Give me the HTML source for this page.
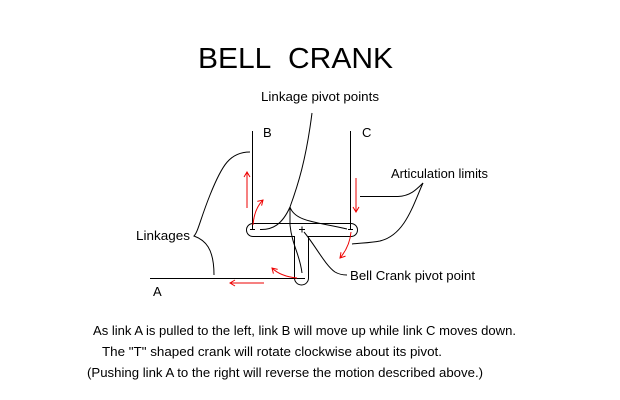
<!DOCTYPE html>
<html><head><meta charset="utf-8"><style>
html,body{margin:0;padding:0;background:#fff;}
svg{display:block;}
text{font-family:"Liberation Sans",sans-serif;fill:#000;}
</style></head><body>
<svg width="620" height="400" viewBox="0 0 620 400" xmlns="http://www.w3.org/2000/svg">
<defs>
<marker id="ah" markerWidth="8" markerHeight="8" refX="6" refY="4" orient="auto" markerUnits="userSpaceOnUse">
<path d="M1,1 L6,4 L1,7" fill="none" stroke="#e00" stroke-width="1"/>
</marker>
</defs>
<text x="198" y="68" font-size="29" textLength="195" lengthAdjust="spacingAndGlyphs">BELL&#160; CRANK</text>
<text x="261" y="101" font-size="13" textLength="118" lengthAdjust="spacingAndGlyphs">Linkage pivot points</text>
<text x="263" y="137" font-size="13">B</text>
<text x="362" y="137" font-size="13">C</text>
<text x="391" y="178" font-size="13" textLength="97" lengthAdjust="spacingAndGlyphs">Articulation limits</text>
<text x="136" y="240" font-size="13" textLength="54" lengthAdjust="spacingAndGlyphs">Linkages</text>
<text x="350" y="280" font-size="13" textLength="125" lengthAdjust="spacingAndGlyphs">Bell Crank pivot point</text>
<text x="153" y="296" font-size="13">A</text>
<text x="93" y="335" font-size="13" textLength="423" lengthAdjust="spacingAndGlyphs">As link A is pulled to the left, link B will move up while link C moves down.</text>
<text x="102" y="356" font-size="13" textLength="340" lengthAdjust="spacingAndGlyphs">The "T" shaped crank will rotate clockwise about its pivot.</text>
<text x="87" y="377" font-size="13" textLength="396" lengthAdjust="spacingAndGlyphs">(Pushing link A to the right will reverse the motion described above.)</text>

<g fill="none" stroke="#000" stroke-width="1">
<line x1="252.5" y1="131" x2="252.5" y2="229"/>
<line x1="350.5" y1="131" x2="350.5" y2="229"/>
<line x1="150" y1="278.5" x2="302" y2="278.5"/>
<path d="M253,223.5 L351,223.5 A6.5,6.5 0 0 1 351,236.5 L308.5,236.5 L308.5,278 A7,7 0 0 1 294.5,278 L294.5,236.5 L253,236.5 A6.5,6.5 0 0 1 253,223.5 Z"/>
<path d="M299,229.5 h6 M302,226.5 v6"/>
<path d="M250,229.5 h5 M348,229.5 h5 M299,278.5 h6"/>
<path d="M312,113 C306,160 298,185 290,207"/>
<path d="M290,207 C282,225 272,230 260,229.5"/>
<path d="M290,207 C295,222 318,222 347,229"/>
<path d="M290,207 L290,225 C292,245 300,255 302,273"/>
<path d="M250,152 C230,152 222,165 210,195 C200,220 198,232 194,236 C205,240 214,248 214,275"/>
<path d="M360,196.5 L398,196.5 C410,196 416,190 423,183"/>
<path d="M423,183 C413,205 405,235 380,241 C370,243 360,243 352,244"/>
<path d="M304,232 C315,245 325,265 335,272 C340,275 344,275 347,275"/>
</g>

<g fill="none" stroke="#e00" stroke-width="1">
<line x1="247" y1="208" x2="247" y2="172" marker-end="url(#ah)"/>
<line x1="356" y1="178" x2="356" y2="212" marker-end="url(#ah)"/>
<line x1="264" y1="283" x2="230" y2="283" marker-end="url(#ah)"/>
<path d="M253,225 C254,212 258,205 263,200" marker-end="url(#ah)"/>
<path d="M351,232 C350,243 346,251 340,258" marker-end="url(#ah)"/>
<path d="M297,278 C287,277 278,274 272,268" marker-end="url(#ah)"/>
</g>
</svg>
</body></html>
